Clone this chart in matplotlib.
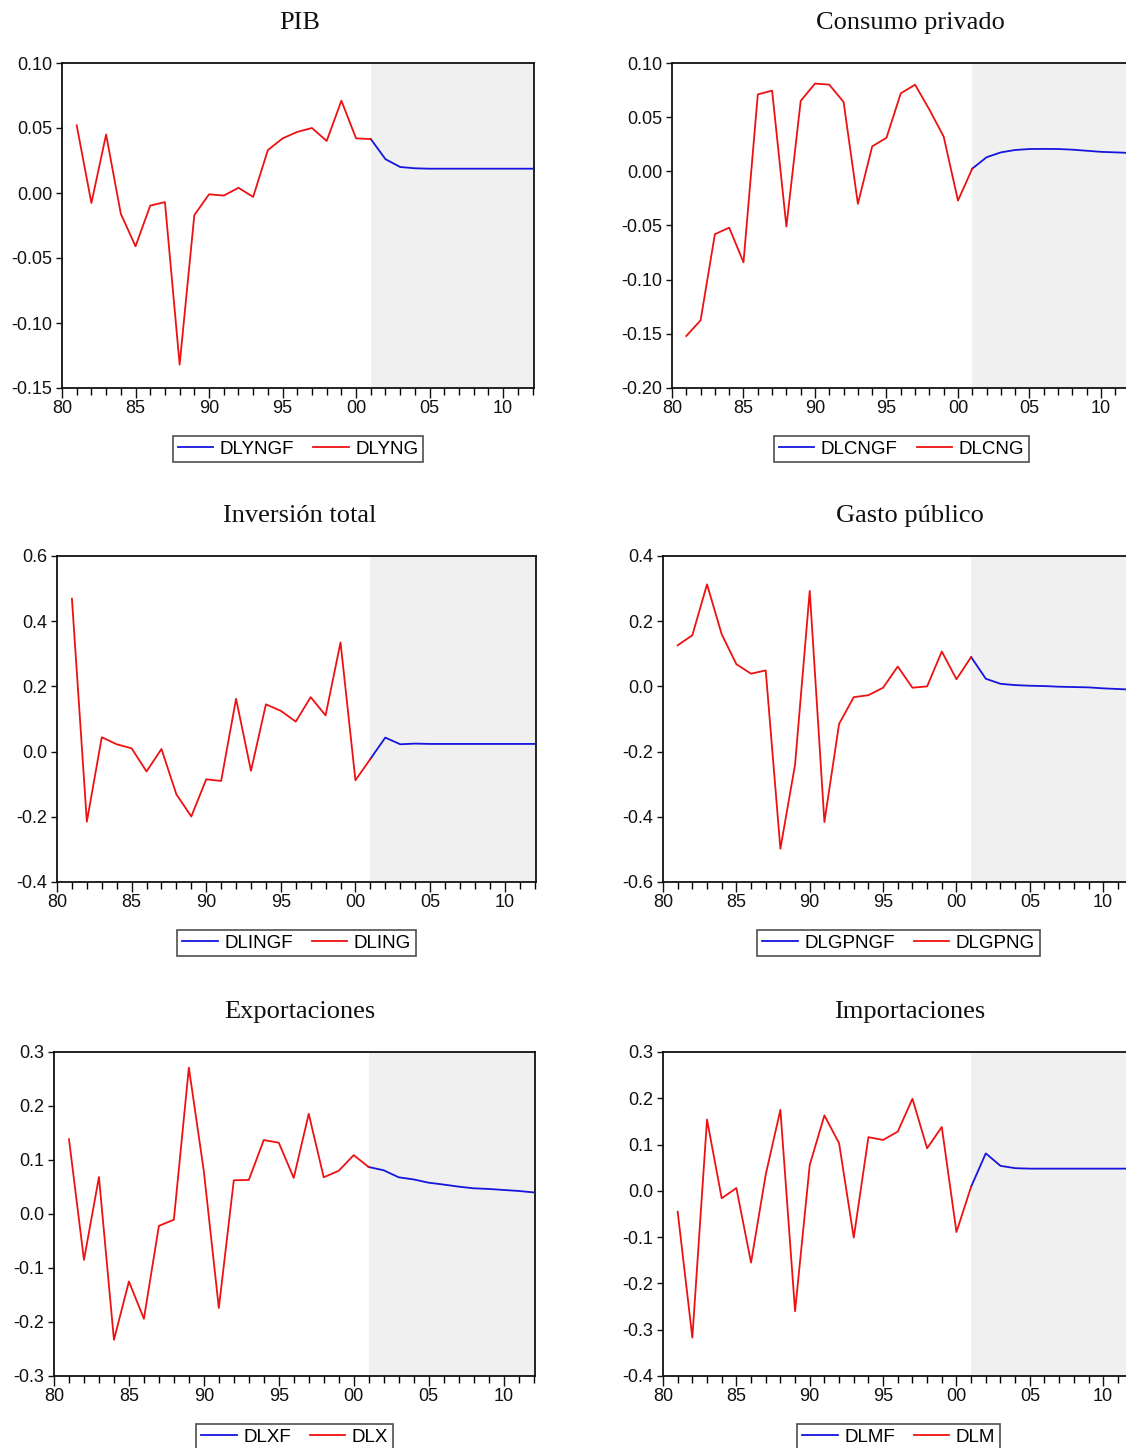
import matplotlib
matplotlib.use("Agg")
import matplotlib.pyplot as plt
from matplotlib.ticker import FixedLocator, FuncFormatter
from matplotlib.lines import Line2D

plt.rcParams['axes.unicode_minus'] = False
plt.rcParams['font.family'] = ['Liberation Sans', 'DejaVu Sans']

# ---------------- data ----------------
years_hist = list(range(1981, 2002))   # 1981..2001
years_fcst = list(range(2001, 2013))   # 2001..2012

# PIB
dlyng = [0.052, -0.0077, 0.045, -0.016, -0.041, -0.0097, -0.007, -0.132, -0.017, -0.001,
         -0.002, 0.004, -0.003, 0.033, 0.042, 0.047, 0.050, 0.040, 0.071, 0.042, 0.0415]
dlyngf = [0.0415, 0.026, 0.020, 0.019, 0.0187, 0.0187, 0.0187, 0.0187, 0.0187, 0.0187, 0.0187, 0.0187]

# Consumo privado
dlcng = [-0.152, -0.1375, -0.058, -0.052, -0.084, 0.071, 0.0745, -0.051, 0.065, 0.081,
         0.080, 0.064, -0.030, 0.023, 0.031, 0.072, 0.080, 0.057, 0.032, -0.027, 0.0025]
dlcngf = [0.0025, 0.013, 0.0175, 0.0197, 0.0206, 0.0207, 0.0206, 0.020, 0.019, 0.018, 0.0175, 0.017]

# Inversión total
dling = [0.469, -0.215, 0.044, 0.0225, 0.010, -0.061, 0.008, -0.131, -0.199, -0.085,
         -0.090, 0.162, -0.059, 0.145, 0.125, 0.092, 0.167, 0.111, 0.335, -0.088, -0.0225]
dlingf = [-0.0225, 0.043, 0.0225, 0.0245, 0.0235, 0.0235, 0.0235, 0.0235, 0.0235, 0.0235, 0.0235, 0.0235]

# Gasto público
dlgpng = [0.126, 0.157, 0.313, 0.160, 0.068, 0.039, 0.049, -0.498, -0.240, 0.293,
          -0.416, -0.115, -0.033, -0.027, -0.004, 0.061, -0.004, 0.000, 0.107, 0.022, 0.090]
dlgpngf = [0.090, 0.0235, 0.008, 0.004, 0.002, 0.001, -0.001, -0.002, -0.003, -0.006, -0.008, -0.010]

# Exportaciones
dlx = [0.1385, -0.085, 0.0685, -0.233, -0.125, -0.194, -0.022, -0.0105, 0.271, 0.079,
       -0.174, 0.0625, 0.063, 0.137, 0.132, 0.0668, 0.1855, 0.068, 0.080, 0.109, 0.087]
dlxf = [0.087, 0.081, 0.068, 0.064, 0.058, 0.0545, 0.0507, 0.0476, 0.0464, 0.0445, 0.0427, 0.040]

# Importaciones
dlm = [-0.045, -0.317, 0.154, -0.016, 0.006, -0.155, 0.035, 0.175, -0.260, 0.056,
       0.163, 0.103, -0.101, 0.116, 0.110, 0.128, 0.199, 0.092, 0.138, -0.089, 0.009]
dlmf = [0.009, 0.081, 0.054, 0.049, 0.048, 0.048, 0.048, 0.048, 0.048, 0.048, 0.048, 0.048]

titles = ["PIB", "Consumo privado", "Inversión total", "Gasto público",
          "Exportaciones", "Importaciones"]
hist_series = [dlyng, dlcng, dling, dlgpng, dlx, dlm]
fcst_series = [dlyngf, dlcngf, dlingf, dlgpngf, dlxf, dlmf]
hist_names = ["DLYNG", "DLCNG", "DLING", "DLGPNG", "DLX", "DLM"]
fcst_names = ["DLYNGF", "DLCNGF", "DLINGF", "DLGPNGF", "DLXF", "DLMF"]
y_ranges = [(-0.15, 0.10), (-0.20, 0.10), (-0.4, 0.6), (-0.6, 0.4), (-0.3, 0.3), (-0.4, 0.3)]
y_steps = [0.05, 0.05, 0.2, 0.2, 0.1, 0.1]
y_decimals = [2, 2, 1, 1, 1, 1]
x_major = [1980, 1985, 1990, 1995, 2000, 2005, 2010]
x_major_labels = ["80", "85", "90", "95", "00", "05", "10"]
forecast_start = 2001

# ---------------- layout (pixels) ----------------
W, H = 1126, 1448
boxes = [  # left, right, top, bottom
    (62, 534, 63, 388),
    (672, 1131, 63, 388),
    (57, 536, 556, 882),
    (663, 1134, 556, 882),
    (54, 535, 1052, 1376),
    (663, 1134, 1052, 1376),
]
title_x = [300, 910, 300, 910, 300, 910]

fig = plt.figure(figsize=(W / 100, H / 100), dpi=100)
RED = "#ee1111"
BLUE = "#1515dd"

for i in range(6):
    l, r, t, b = boxes[i]
    ax = fig.add_axes([l / W, 1 - b / H, (r - l) / W, (b - t) / H])
    ymin, ymax = y_ranges[i]
    ax.set_xlim(1980, 2012.1)
    ax.set_ylim(ymin, ymax)
    ax.axvspan(forecast_start, 2013, color="#f0f0f0", zorder=0, lw=0)
    ax.plot(years_fcst, fcst_series[i], color=BLUE, lw=1.3, zorder=3)
    ax.plot(years_hist, hist_series[i], color=RED, lw=1.3, zorder=3)

    ax.xaxis.set_major_locator(FixedLocator(x_major))
    ax.xaxis.set_minor_locator(FixedLocator(list(range(1980, 2013))))
    ax.set_xticklabels(x_major_labels)
    n = int(round((ymax - ymin) / y_steps[i]))
    yt = [ymin + k * y_steps[i] for k in range(n + 1)]
    ax.yaxis.set_major_locator(FixedLocator(yt))
    dec = y_decimals[i]
    ax.yaxis.set_major_formatter(FuncFormatter(lambda v, p, d=dec: f"{v:.{d}f}"))

    ax.tick_params(axis="x", which="major", direction="out", length=7, width=1.0,
                   labelsize=13, pad=1.5, colors="#111111")
    ax.tick_params(axis="x", which="minor", direction="out", length=5, width=1.0)
    ax.tick_params(axis="y", which="major", direction="out", length=4, width=1.0,
                   labelsize=13, pad=3, colors="#111111")
    for s in ax.spines.values():
        s.set_linewidth(1.3)
        s.set_color("#111111")

    fig.text(title_x[i] / W, 1 - (t - 40) / H, titles[i], ha="center", va="center",
             fontsize=19, family=["Liberation Serif", "DejaVu Serif"], color="#111111")

    handles = [Line2D([0], [0], color=BLUE, lw=1.3), Line2D([0], [0], color=RED, lw=1.3)]
    leg = ax.legend(handles, [fcst_names[i], hist_names[i]], loc="center",
                    bbox_to_anchor=(0.5, -61 / (b - t)), ncol=2, frameon=True,
                    fancybox=False, fontsize=13.5, handlelength=1.9, handletextpad=0.35,
                    columnspacing=1.0, borderpad=0.25, borderaxespad=0)
    leg.get_frame().set_edgecolor("#222222")
    leg.get_frame().set_linewidth(1.2)

fig.savefig("out.png", dpi=100)
